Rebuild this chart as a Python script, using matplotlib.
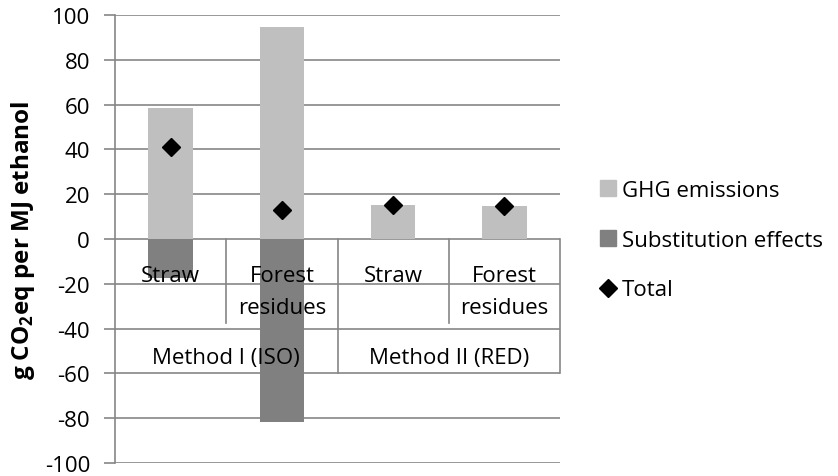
import matplotlib
matplotlib.use("Agg")
import matplotlib.pyplot as plt
from matplotlib.patches import Patch
from matplotlib.lines import Line2D

categories = ["Straw", "Forest\nresidues", "Straw", "Forest\nresidues"]
groups = ["Method I (ISO)", "Method II (RED)"]
ghg = [58.5, 94.6, 15.2, 14.6]
subst = [-17.4, -81.7, 0, 0]
total = [41.1, 12.9, 15.2, 14.6]
yticks = list(range(-100, 101, 20))

plt.rcParams['font.family'] = ['Open Sans', 'DejaVu Sans']
plt.rcParams['mathtext.fontset'] = 'custom'
plt.rcParams['mathtext.rm'] = 'Open Sans'
plt.rcParams['mathtext.bf'] = 'Open Sans:bold'
plt.rcParams['axes.unicode_minus'] = False

FS = 16
GRID = '#868686'
fig = plt.figure(figsize=(8.38, 4.77), dpi=100)
ax = fig.add_axes([115/838, 1-464/477, 445/838, 448/477])

x = list(range(len(categories)))
ax.bar(x, ghg, width=0.4, color='#BFBFBF', zorder=2, label='GHG emissions')
ax.bar(x, subst, width=0.4, color='#808080', zorder=2, label='Substitution effects')
ax.plot(x, total, linestyle='none', marker='D', markersize=9, color='black', zorder=4, label='Total')

ax.set_xlim(-0.5, 3.5)
ax.set_ylim(-100, 100)
ax.set_yticks(yticks)
ax.yaxis.grid(True, color=GRID, lw=1.2, zorder=0)
ax.set_axisbelow(True)
for s in ['top', 'right', 'bottom']:
    ax.spines[s].set_visible(False)
ax.spines['left'].set_color(GRID)
ax.spines['left'].set_linewidth(1.2)
ax.set_xticks([])
ax.tick_params(axis='y', length=8, width=1.2, color=GRID, labelsize=FS, pad=10)

# multi-level category labels
for xi, lab in zip(x, categories):
    lines = lab.split('\n')
    for k, ln in enumerate(lines):
        ax.text(xi, -16.5 - 14 * k, ln, ha='center', va='center', fontsize=FS, zorder=3)
for gi, g in enumerate(groups):
    ax.text(gi * 2 + 0.5, -53, g, ha='center', va='center', fontsize=FS, zorder=3)
for xb in [0.5, 2.5]:
    ax.plot([xb, xb], [0, -37.5], color=GRID, lw=1.2, zorder=1)
for xb in [1.5, 3.5]:
    ax.plot([xb, xb], [0, -60], color=GRID, lw=1.2, zorder=1, clip_on=False)

ax.set_ylabel('g CO$_\\mathbf{2}$eq per MJ ethanol', fontsize=17.5, fontweight='bold')
ax.yaxis.set_label_coords(-0.175, 0.5)

handles = [Patch(color='#BFBFBF'), Patch(color='#808080'),
           Line2D([], [], linestyle='none', marker='D', markersize=9, color='black')]
fig.legend(handles, ['GHG emissions', 'Substitution effects', 'Total'],
           loc='center left', bbox_to_anchor=(600/838, 1-241/477), frameon=False,
           fontsize=FS, handlelength=0.7, handleheight=0.7, handletextpad=0.3,
           labelspacing=1.3, borderaxespad=0, borderpad=0)

fig.savefig('out.png', dpi=100)
